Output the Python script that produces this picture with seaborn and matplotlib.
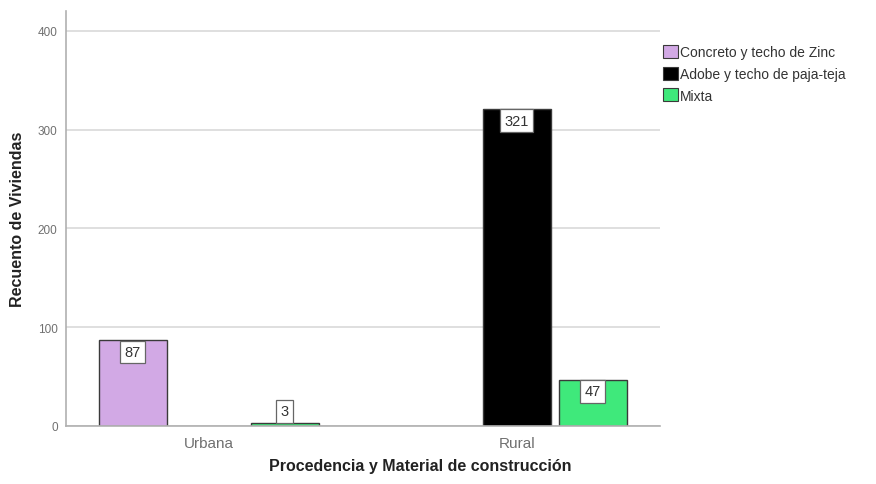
import matplotlib
matplotlib.use("Agg")
import matplotlib.pyplot as plt
from matplotlib.patches import Patch
import seaborn as sns
import pandas as pd

procedencia = ["Urbana", "Rural"]
material = ["Concreto y techo de Zinc", "Adobe y techo de paja-teja", "Mixta"]
urbana_counts = [87, 0, 3]
rural_counts = [0, 321, 47]
colores = ["#D2A9E5", "#000000", "#3FE97B"]

rows = []
for proc, counts in zip(procedencia, [urbana_counts, rural_counts]):
    for mat, n in zip(material, counts):
        rows.append({"Procedencia": proc, "Material": mat, "Recuento": n})
df = pd.DataFrame(rows)

sns.set_theme(style="white")
plt.rcParams["font.family"] = ["Liberation Sans", "DejaVu Sans"]

fig = plt.figure(figsize=(8.76, 4.85), dpi=100)
ax = fig.add_axes([0.0753, 0.1196, 0.6777, 0.8554])

sns.barplot(data=df, x="Procedencia", y="Recuento", hue="Material",
            order=procedencia, hue_order=material, palette=colores,
            saturation=1, width=0.74, gap=0.1, edgecolor="#3a3a3a",
            linewidth=1.0, legend=False, ax=ax, errorbar=None)

ax.set_xlim(-0.464, 1.464)
ax.set_ylim(0, 420)
ax.set_yticks([0, 100, 200, 300, 400])
ax.yaxis.grid(True, color="#d9d9d9", linewidth=1.2)
ax.set_axisbelow(True)
for s in ["top", "right"]:
    ax.spines[s].set_visible(False)
for s in ["left", "bottom"]:
    ax.spines[s].set_color("#b0b0b0")
    ax.spines[s].set_linewidth(1.2)
ax.tick_params(axis="both", length=0, labelsize=8.5, labelcolor="#707070", pad=6)
ax.tick_params(axis="x", labelsize=11, pad=7)

ax.set_xlabel("Procedencia y Material de construcción", fontsize=11.5,
              fontweight="bold", color="#222222")
ax.xaxis.set_label_coords(0.596, -0.078)
ax.set_ylabel("Recuento de Viviendas", fontsize=11.5, fontweight="bold",
              color="#222222", labelpad=9)

# value labels in white boxes at each bar top; empty bars are not drawn
box = dict(boxstyle="square,pad=0.3", fc="white", ec="#666666", lw=0.9)
for container in ax.containers:
    for bar in container:
        h = bar.get_height()
        if h <= 0:
            bar.set_visible(False)
            continue
        xc = bar.get_x() + bar.get_width() / 2
        if h >= 30:
            ax.annotate(f"{int(h)}", (xc, h), xytext=(0, -3.5), textcoords="offset points",
                        ha="center", va="top", fontsize=10.5, color="#333333", bbox=box)
        else:
            ax.annotate(f"{int(h)}", (xc, h), xytext=(0, 3.5), textcoords="offset points",
                        ha="center", va="bottom", fontsize=10.5, color="#333333", bbox=box)

handles = [Patch(facecolor=c, edgecolor="#3a3a3a", linewidth=0.8) for c in colores]
fig.legend(handles, material, loc="upper left", bbox_to_anchor=(0.7505, 0.917),
           frameon=False, fontsize=10, handlelength=1.05, handleheight=1.05,
           handletextpad=0.15, labelspacing=0.55, borderaxespad=0,
           labelcolor="#333333")

fig.savefig("out.png", dpi=100, facecolor="white")
